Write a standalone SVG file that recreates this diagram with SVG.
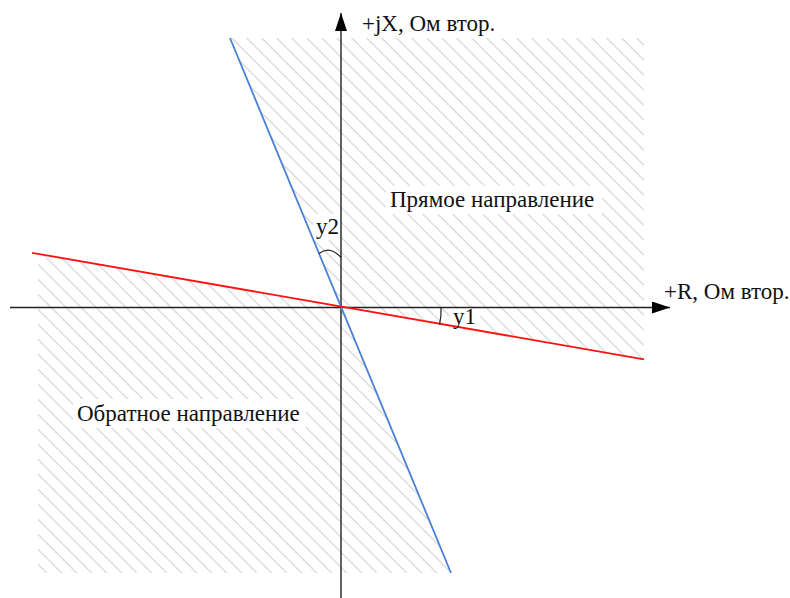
<svg xmlns="http://www.w3.org/2000/svg" width="790" height="598" viewBox="0 0 790 598">
  <defs>
    <pattern id="hatch" patternUnits="userSpaceOnUse" width="15" height="15">
      <path d="M13.7,0 L28.7,15 M-1.3,0 L13.7,15 M-16.3,0 L-1.3,15" stroke="#dcdcdc" stroke-width="1.5" fill="none"/>
    </pattern>
    <marker id="arrow" viewBox="0 0 18 12" refX="18" refY="6" markerWidth="18" markerHeight="12" markerUnits="userSpaceOnUse" orient="auto">
      <path d="M0,0 L18,6 L0,12 Z" fill="#000"/>
    </marker>
  </defs>
  <style>
    text { font-family: "Liberation Serif", "Times New Roman", serif; font-size: 23px; fill: #111; }
    .axis { stroke: #222; stroke-width: 1.4; fill: none; }
    .arc { stroke: #222; stroke-width: 1.2; fill: none; }
    .bg { fill: #fff; }
  </style>
  <rect width="790" height="598" fill="#fff"/>
  <g id="regions">
    <polygon id="forward-region" points="230,38 644,38 644,359.3 341,307.5" fill="url(#hatch)"/>
    <polygon id="reverse-region" points="38,253.8 341,307.5 451,573 38,573" fill="url(#hatch)"/>
  </g>
  <g id="label-backgrounds">
    <rect class="bg" x="386" y="186" width="216" height="28"/>
    <rect class="bg" x="73" y="399" width="233" height="29"/>
    <rect class="bg" x="313" y="214" width="27" height="26"/>
    <rect class="bg" x="450" y="309" width="30" height="22"/>
  </g>
  <g id="connectors">
    <line id="axis-x" class="axis" x1="10" y1="307.5" x2="670" y2="307.5" marker-end="url(#arrow)"/>
    <line id="axis-y" class="axis" x1="341" y1="598" x2="341" y2="13" marker-end="url(#arrow)"/>
    <line id="line-blue" x1="230" y1="38" x2="451" y2="573" stroke="#4a80d6" stroke-width="1.8"/>
    <line id="line-red" x1="32" y1="252.8" x2="644" y2="359.3" stroke="#ff1010" stroke-width="1.8"/>
    <path id="arc-y2" class="arc" d="M319,253.5 Q330,245 341,257.5"/>
    <path id="arc-y1" class="arc" d="M441,307.5 Q441.5,316 439.5,324.5"/>
  </g>
  <g id="labels">
    <text id="label-jx" x="362" y="31" font-family="Liberation Serif, serif">+jX, Ом втор.</text>
    <text id="label-r" x="664" y="299" font-family="Liberation Serif, serif">+R, Ом втор.</text>
    <text id="label-forward" x="390" y="207" font-family="Liberation Serif, serif">Прямое направление</text>
    <text id="label-reverse" x="77" y="421" font-family="Liberation Serif, serif">Обратное направление</text>
    <text id="label-y2" x="316" y="234" font-family="Liberation Serif, serif">y2</text>
    <text id="label-y1" x="453" y="324" font-family="Liberation Serif, serif">y1</text>
  </g>
</svg>
